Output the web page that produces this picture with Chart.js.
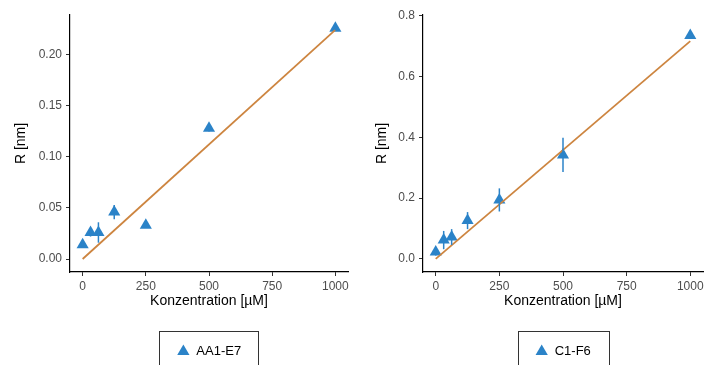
<!DOCTYPE html>
<html>
<head>
<meta charset="utf-8">
<script src="https://cdn.jsdelivr.net/npm/chart.js@4.4.0/dist/chart.umd.min.js"></script>
<style>
  body { margin: 0; background: #fff; }
  .panel { position: absolute; top: 0; width: 355px; height: 365px; overflow: hidden; }
</style>
</head>
<body>
<div class="panel" style="left:0"><canvas id="left"></canvas></div>
<div class="panel" style="left:355px"><canvas id="right"></canvas></div>
<script>
// concentrations (µM)
const conc = [0, 31.25, 62.5, 125, 250, 500, 1000];
const xTicks = [0, 250, 500, 750, 1000];

// AA1-E7
const rLeft = [0.014, 0.026, 0.026, 0.046, 0.033, 0.128, 0.226];
const errLeft = [0.002, 0.004, 0.010, 0.007, 0.002, 0.003, 0.002];
const fitLeft = [0, 0.2245];
const yTicksLeft = [0, 0.05, 0.10, 0.15, 0.20];

// C1-F6
const rRight = [0.023, 0.062, 0.072, 0.126, 0.194, 0.342, 0.735];
const errRight = [0.012, 0.030, 0.026, 0.028, 0.038, 0.056, 0.010];
const fitRight = [0, 0.716];
const yTicksRight = [0, 0.2, 0.4, 0.6, 0.8];

const blue = '#2b83c8';
const orange = '#cd8540';
const font = 'Liberation Sans, Arial, sans-serif';

const errorBars = {
  id: 'errorBars',
  afterDatasetsDraw(chart, args, opts) {
    const {ctx, scales: {x, y}} = chart;
    ctx.save();
    ctx.strokeStyle = blue;
    ctx.lineWidth = 1.5;
    opts.values.forEach((v, i) => {
      const px = x.getPixelForValue(opts.xs[i]);
      ctx.beginPath();
      ctx.moveTo(px, y.getPixelForValue(v - opts.errs[i]));
      ctx.lineTo(px, y.getPixelForValue(v + opts.errs[i]));
      ctx.stroke();
    });
    ctx.restore();
  }
};

// ggplot-style frame around the legend key
const legendBox = {
  id: 'legendBox',
  afterDraw(chart) {
    const hb = chart.legend.legendHitBoxes[0];
    if (!hb) return;
    const {ctx} = chart;
    const mid = hb.top + hb.height / 2;
    ctx.save();
    ctx.strokeStyle = '#333';
    ctx.lineWidth = 1;
    ctx.strokeRect(Math.round(hb.left - 17.5) + 0.5, Math.round(mid - 21) + 0.5,
      Math.round(hb.width + 35), 60);
    ctx.restore();
  }
};

function makeChart(id, label, values, errs, fit, yMin, yMax, yTicks, decimals, yWidth, titlePad, rightPad) {
  return new Chart(document.getElementById(id), {
    type: 'scatter',
    data: {
      datasets: [{
        label: 'fit',
        data: [{x: conc[0], y: fit[0]}, {x: conc[conc.length - 1], y: fit[1]}],
        showLine: true,
        borderColor: orange,
        borderWidth: 1.8,
        pointRadius: 0,
        order: 0
      }, {
        label: label,
        data: conc.map((c, i) => ({x: c, y: values[i]})),
        pointStyle: 'triangle',
        pointRadius: 7,
        backgroundColor: blue,
        borderColor: blue,
        borderWidth: 0,
        order: 1
      }]
    },
    options: {
      responsive: false,
      animation: false,
      layout: { padding: { top: 15, left: 0, right: rightPad, bottom: 0 } },
      plugins: {
        tooltip: { enabled: false },
        legend: {
          position: 'bottom',
          fullSize: false,
          labels: {
            filter: item => item.datasetIndex === 1,
            usePointStyle: true,
            pointStyle: 'triangle',
            boxHeight: 10,
            padding: 10,
            color: '#000',
            font: { family: font, size: 13 }
          }
        },
        errorBars: { xs: conc, values: values, errs: errs }
      },
      scales: {
        x: {
          type: 'linear',
          min: -50,
          max: 1050,
          afterBuildTicks: s => { s.ticks = xTicks.map(v => ({value: v})); },
          afterFit: s => { s.height = 63; },
          grid: { drawOnChartArea: false, tickLength: 4, color: '#333' },
          border: { color: '#000', width: 1.2 },
          ticks: { color: '#4d4d4d', padding: 3, font: { family: font, size: 12 }, maxRotation: 0,
                   callback: v => String(v) },
          title: { display: true, text: 'Konzentration [µM]', color: '#000',
                   font: { family: font, size: 14 }, padding: { top: 0, bottom: 25.5 } }
        },
        y: {
          min: yMin,
          max: yMax,
          afterBuildTicks: s => { s.ticks = yTicks.map(v => ({value: v})); },
          afterFit: s => { s.width = yWidth; },
          grid: { drawOnChartArea: false, tickLength: 4, color: '#333' },
          border: { color: '#000', width: 1.2 },
          ticks: { color: '#4d4d4d', padding: 4, font: { family: font, size: 12 },
                   callback: v => v.toFixed(decimals) },
          title: { display: true, text: 'R [nm]', color: '#000',
                   font: { family: font, size: 14 }, padding: { top: titlePad, bottom: 0 } }
        }
      }
    },
    plugins: [errorBars, legendBox]
  });
}

for (const id of ['left', 'right']) {
  const c = document.getElementById(id);
  c.width = 355; c.height = 368;
  c.style.width = '355px'; c.style.height = '368px';
}

makeChart('left', 'AA1-E7', rLeft, errLeft, fitLeft, -0.0127, 0.239, yTicksLeft, 2, 70, 12.6, 7);
makeChart('right', 'C1-F6', rRight, errRight, fitRight, -0.043, 0.802, yTicksRight, 1, 68, 18.6, 2);
</script>
</body>
</html>
